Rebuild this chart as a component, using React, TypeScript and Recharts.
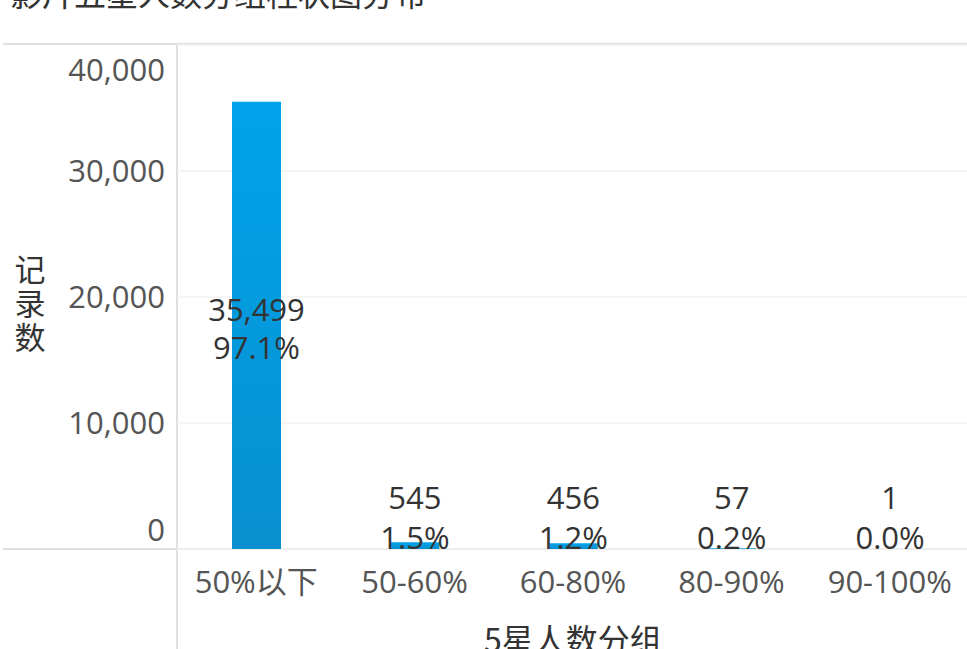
import { BarChart, Bar, XAxis, YAxis, CartesianGrid, LabelList } from 'recharts'

const groups = ['50%以下', '50-60%', '60-80%', '80-90%', '90-100%']
const counts = [35499, 545, 456, 57, 1]
const yTicks = [0, 10000, 20000, 30000, 40000]

const title = '影片五星人数分组柱状图分布'
const yTitle = ['记', '录', '数']
const xTitle = '5星人数分组'

const total = counts.reduce((s, v) => s + v, 0)
const chartData = groups.map((g, i) => ({
  group: g,
  count: counts[i],
  share: ((counts[i] / total) * 100).toFixed(1) + '%',
}))

const FONT = "'Open Sans', 'Noto Sans CJK SC', sans-serif"
const CJK = "'Noto Sans CJK SC', sans-serif"
const LINE = '#e0e0e0'

function YTick({ x, y, payload }: any) {
  // end labels are pulled inside the pane
  let shift = 0
  if (payload.value === 40000) shift = 25
  if (payload.value === 0) shift = -19
  return (
    <text x={x} y={y + 11 + shift} textAnchor="end" fill="#555" fontSize={31} fontFamily={FONT}>
      {payload.value.toLocaleString('en-US')}
    </text>
  )
}

// vertical title, one upright character per row
function YTitle() {
  return (
    <g fill="#333" fontSize={31} fontFamily={CJK} textAnchor="middle">
      {yTitle.map((c, i) => (
        <text key={c} x={30} y={281 + i * 34}>
          {c}
        </text>
      ))}
    </g>
  )
}

function BarLabel({ x, y, width, height, index }: any) {
  const d = chartData[index]
  const cx = x + width / 2
  let y1: number
  let y2: number
  if (height > 100) {
    const mid = y + height / 2
    y1 = mid - 4
    y2 = mid + 34
  } else {
    y2 = y + height
    y1 = y2 - 40
  }
  return (
    <g fill="#333" fontSize={31} fontFamily={FONT} textAnchor="middle">
      <text x={cx} y={y1}>{d.count.toLocaleString('en-US')}</text>
      <text x={cx} y={y2}>{d.share}</text>
    </g>
  )
}

export default function App() {
  return (
    <div
      style={{
        position: 'absolute',
        left: 0,
        top: 0,
        width: 967,
        height: 649,
        overflow: 'hidden',
        background: '#fff',
      }}
    >
      <div
        style={{
          position: 'absolute',
          left: 10,
          top: -24,
          fontSize: 32,
          lineHeight: '32px',
          color: '#333',
          fontFamily: CJK,
          whiteSpace: 'nowrap',
        }}
      >
        {title}
      </div>
      <div style={{ position: 'absolute', left: 3, top: 43, width: 964, height: 2, background: LINE }} />
      <div style={{ position: 'absolute', left: 176, top: 44, width: 2, height: 605, background: LINE }} />
      <div style={{ position: 'absolute', left: 3, top: 548, width: 964, height: 2, background: LINE }} />
      <div style={{ position: 'absolute', left: 0, top: 0 }}>
        <BarChart
          width={969}
          height={670}
          data={chartData}
          margin={{ top: 45, right: 0, bottom: 0, left: 0 }}
        >
          <defs>
            <linearGradient id="barFill" x1="0" y1="0" x2="0" y2="1">
              <stop offset="0%" stopColor="#00a3ea" />
              <stop offset="100%" stopColor="#0890d0" />
            </linearGradient>
          </defs>
          <CartesianGrid horizontal vertical={false} stroke="#f2f2f2" strokeWidth={1.5} />
          <XAxis
            dataKey="group"
            height={121}
            axisLine={false}
            tickLine={false}
            tickSize={0}
            tickMargin={22}
            tick={{ fill: '#555', fontSize: 31, fontFamily: FONT }}
            label={{
              value: xTitle,
              position: 'insideTop',
              offset: 80,
              fill: '#333',
              fontSize: 32,
              fontFamily: CJK,
            }}
          />
          <YAxis
            width={177}
            domain={[0, 40000]}
            ticks={yTicks}
            axisLine={false}
            tickLine={false}
            tickSize={0}
            tickMargin={12}
            tick={<YTick />}
            label={<YTitle />}
          />
          <Bar dataKey="count" fill="url(#barFill)" barSize={49} isAnimationActive={false}>
            <LabelList dataKey="count" content={<BarLabel />} />
          </Bar>
        </BarChart>
      </div>
    </div>
  )
}
